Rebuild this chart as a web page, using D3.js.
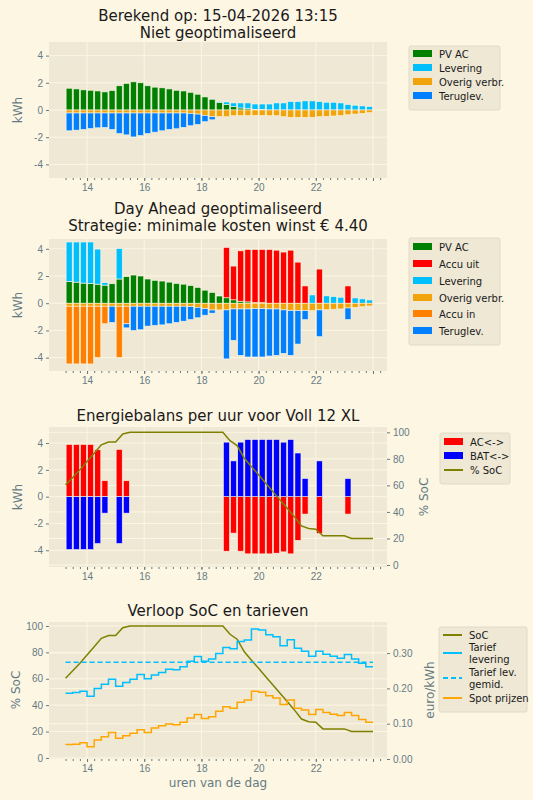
<!DOCTYPE html>
<html>
<head>
<meta charset="utf-8">
<script src="https://cdn.jsdelivr.net/npm/d3@7"></script>
<style>
  body { margin: 0; background: #fdf6e3; }
  svg { font-family: "DejaVu Sans", sans-serif; }
  .tick text { fill: #657b83; font-size: 10px; }
  .tick line { stroke: #657b83; }
  .domain { display: none; }
</style>
</head>
<body>
<svg id="chart" width="533" height="800"></svg>
<script>
// kwartieren vanaf 13:15
var hours = d3.range(43).map(function(i) { return 13.25 + 0.25 * i; });
var socHours = d3.range(44).map(function(i) { return 13.25 + 0.25 * i; });

var pvAC = [1.6,1.55,1.48,1.45,1.4,1.33,1.43,1.78,1.95,2.07,2.0,1.78,1.68,1.63,1.55,1.45,1.4,1.3,1.16,0.96,
  0.79,0.54,0.4,0.25,0.15,0.1,0.05,0.05,0,0,0,0,0,0,0,0,0,0,0,0,0,0,0];
var overig = [0.22,0.22,0.22,0.22,0.22,0.22,0.22,0.22,0.22,0.22,0.22,0.22,0.22,0.22,0.22,0.22,0.22,0.25,0.3,0.4,0.5,
  0.49,0.49,0.42,0.42,0.42,0.4,0.4,0.42,0.42,0.49,0.54,0.54,0.54,0.54,0.49,0.47,0.44,0.42,0.35,0.3,0.25,0.2];

// niet geoptimaliseerd
var levering1 = [0,0,0,0,0,0,0,0,0,0,0,0,0,0,0,0,0,0,0,0,0,
  0.08,0.19,0.27,0.37,0.42,0.39,0.39,0.44,0.52,0.52,0.62,0.62,0.67,0.67,0.62,0.57,0.57,0.52,0.4,0.35,0.3,0.25];
var terug1 = [1.31,1.26,1.21,1.14,1.09,1.06,1.21,1.51,1.61,1.76,1.66,1.51,1.41,1.31,1.21,1.16,1.06,0.91,0.76,0.46,0.22,
  0,0,0,0,0,0,0,0,0,0,0,0,0,0,0,0,0,0,0,0,0,0];

// day ahead geoptimaliseerd
var accuUit = [0,0,0,0,0,0,0,0,0,0,0,0,0,0,0,0,0,0,0,0,0,0,
  3.7,2.48,3.7,3.85,3.9,3.9,3.95,3.9,3.76,3.9,3.02,1.27,0,2.51,0,0,0,1.27,0,0,0];
var levering2 = [2.9,2.95,3.02,3.05,2.58,0.18,0,2.24,0,0,0,0,0,0,0,0,0,0,0,0,0,0.05,
  0,0,0,0,0,0,0,0,0,0,0,0,0.61,0,0.54,0.49,0.44,0,0.39,0.32,0.24];
var accuIn = [4.24,4.24,4.24,4.24,3.76,1.29,0,3.76,1.29,0,0,0,0,0,0,0,0,0,0,0,0,0,
  0,0,0,0,0,0,0,0,0,0,0,0,0,0,0,0,0,0,0,0,0];
var terug2 = [0,0,0,0,0,0,1.19,0,0.3,1.78,1.73,1.46,1.41,1.37,1.29,1.19,1.1,0.95,0.77,0.48,0.23,0,
  3.6,2.31,3.41,3.53,3.55,3.55,3.46,3.41,3.19,3.29,2.46,0.66,0,1.97,0,0,0,0.85,0,0,0];

// energiebalans batterij
var acBal = [3.9,3.9,3.9,3.9,3.5,1.19,0,3.53,1.19,0,0,0,0,0,0,0,0,0,0,0,0,0,
  -4.07,-2.72,-4.07,-4.27,-4.27,-4.27,-4.27,-4.22,-4.12,-4.27,-3.26,-1.3,0,-2.74,0,0,0,-1.3,0,0,0];
var batBal = [-3.95,-3.95,-3.95,-3.95,-3.5,-1.23,0,-3.5,-1.23,0,0,0,0,0,0,0,0,0,0,0,0,0,
  4.07,2.67,4.07,4.27,4.27,4.27,4.27,4.27,4.07,4.27,3.26,1.36,0,2.67,0,0,0,1.36,0,0,0];
var soc = [60.4,66,71.7,78,84.3,90.6,92.7,92.7,98.7,100,100,100,100,100,100,100,100,100,100,100,100,100,100,
  93.7,90,80.4,74,68,61.6,55.3,49,42.7,36.4,29.5,27.5,27,22,22,22,22,20,20,20,20];

// tarieven
var tariefLev = [0.186,0.188,0.192,0.178,0.200,0.212,0.226,0.206,0.217,0.226,0.239,0.227,0.238,0.245,0.254,0.253,
  0.261,0.277,0.290,0.277,0.283,0.299,0.316,0.312,0.333,0.337,0.368,0.365,0.352,0.346,0.321,0.338,0.314,0.305,
  0.291,0.305,0.297,0.291,0.285,0.296,0.283,0.271,0.261];
var tariefGem = 0.274;
var spot = [0.041,0.042,0.046,0.035,0.054,0.063,0.075,0.059,0.066,0.073,0.083,0.075,0.088,0.094,0.099,0.097,
  0.104,0.116,0.126,0.115,0.120,0.135,0.148,0.144,0.161,0.167,0.192,0.189,0.179,0.173,0.154,0.167,0.144,0.139,
  0.126,0.140,0.132,0.127,0.123,0.132,0.123,0.112,0.104];

var xTicks = [14,16,18,20,22,24];
var kwhTicks = [-4,-2,0,2,4];

var col = {pv:"#008000", lev:"#00bfff", ov:"#f0a30a", terug:"#0080ff", uit:"#ff0000", inn:"#ff8000",
  ac:"#ff0000", bat:"#0000ff", soc:"#808000", spot:"#ffa500"};

var svg = d3.select("#chart");
var L = 49, R = 387;
var x = d3.scaleLinear().domain([12.67, 24.49]).range([L, R]);
var bw = (x(0.25) - x(0)) * 0.85;

function panel(top, bottom, yDom, yTicks, fmt) {
  var g = svg.append("g");
  g.append("rect").attr("x", L).attr("y", top).attr("width", R - L).attr("height", bottom - top).attr("fill", "#eee8d5");
  var y = d3.scaleLinear().domain(yDom).range([bottom, top]);
  g.append("g").selectAll("line").data(xTicks).join("line")
    .attr("x1", d => x(d)).attr("x2", d => x(d)).attr("y1", top).attr("y2", bottom)
    .attr("stroke", "#fdf6e3").attr("stroke-width", 1);
  g.append("g").selectAll("line").data(yTicks).join("line")
    .attr("x1", L).attr("x2", R).attr("y1", d => y(d)).attr("y2", d => y(d))
    .attr("stroke", "#fdf6e3").attr("stroke-width", 1);
  g.append("g").attr("transform", "translate(0," + bottom + ")")
    .call(d3.axisBottom(x).tickValues(xTicks).tickSize(3).tickFormat(d => d === 24 ? "" : d));
  g.append("g").attr("transform", "translate(0," + bottom + ")")
    .call(d3.axisBottom(x).tickValues(d3.range(13.25, 24.3, 0.25)).tickSize(2).tickFormat(""));
  g.append("g").attr("transform", "translate(" + L + ",0)")
    .call(d3.axisLeft(y).tickValues(yTicks).tickSize(3).tickFormat(fmt || (d => d)));
  return {g: g, y: y, top: top, bottom: bottom};
}

function stack(p, series) {
  // series: [{vals, color, sign}]; stacks positive up, negative down
  var pos = hours.map(() => 0), neg = hours.map(() => 0);
  series.forEach(function(s) {
    var bars = hours.map(function(h, i) {
      var v = s.vals[i];
      var b;
      if (s.sign > 0) { b = {h: h, y0: pos[i], y1: pos[i] + v}; pos[i] += v; }
      else { b = {h: h, y0: neg[i], y1: neg[i] - v}; neg[i] -= v; }
      return b;
    }).filter(b => b.y0 !== b.y1);
    p.g.append("g").selectAll("rect").data(bars).join("rect")
      .attr("x", d => x(d.h + 0.125) - bw / 2).attr("width", bw)
      .attr("y", d => p.y(Math.max(d.y0, d.y1)))
      .attr("height", d => Math.abs(p.y(d.y0) - p.y(d.y1)))
      .attr("fill", s.color).attr("stroke", "#fdf6e3").attr("stroke-width", 0.6);
  });
}

function title(lines, yy) {
  lines.forEach(function(t, i) {
    svg.append("text").attr("x", 218).attr("y", yy + i * 17).attr("text-anchor", "middle")
      .attr("font-size", 15).attr("fill", "#1a1a1a").text(t);
  });
}

function yLabel(t, xx, yy) {
  svg.append("text").attr("transform", "translate(" + xx + "," + yy + ") rotate(-90)")
    .attr("text-anchor", "middle").attr("font-size", 12).attr("fill", "#657b83").text(t);
}

function legend(x0, y0, w, items) {
  var h = d3.max(items, d => d.y) + 14;
  var g = svg.append("g");
  g.append("rect").attr("x", x0).attr("y", y0).attr("width", w).attr("height", h)
    .attr("rx", 2).attr("fill", "#eee8d5").attr("stroke", "#e0dac7");
  items.forEach(function(it) {
    var cy = y0 + it.y;
    if (it.type === "patch") {
      g.append("rect").attr("x", x0 + 4).attr("y", cy - 4).attr("width", 19).attr("height", 7).attr("fill", it.color);
    } else {
      g.append("line").attr("x1", x0 + 4).attr("x2", x0 + 23).attr("y1", cy).attr("y2", cy)
        .attr("stroke", it.color).attr("stroke-width", 2).attr("stroke-dasharray", it.dash || null);
    }
    it.text.forEach(function(t, k) {
      g.append("text").attr("x", x0 + 30).attr("y", cy + 4 + (k - (it.text.length - 1) / 2) * 11.5)
        .attr("font-size", 10).attr("fill", "#1a1a1a").text(t);
    });
  });
}

// 1: niet geoptimaliseerd
title(["Berekend op: 15-04-2026 13:15", "Niet geoptimaliseerd"], 21);
var p1 = panel(42, 178, [-5, 5], kwhTicks);
stack(p1, [{vals: pvAC, color: col.pv, sign: 1}, {vals: levering1, color: col.lev, sign: 1},
  {vals: overig, color: col.ov, sign: -1}, {vals: terug1, color: col.terug, sign: -1}]);
yLabel("kWh", 22, 110);
legend(409, 46, 91, [
  {type: "patch", color: col.pv, text: ["PV AC"], y: 8},
  {type: "patch", color: col.lev, text: ["Levering"], y: 22},
  {type: "patch", color: col.ov, text: ["Overig verbr."], y: 36},
  {type: "patch", color: col.terug, text: ["Teruglev."], y: 50}]);

// 2: day ahead
title(["Day Ahead geoptimaliseerd", "Strategie: minimale kosten winst € 4.40"], 214);
var p2 = panel(239, 371, [-4.98, 4.72], kwhTicks);
stack(p2, [{vals: pvAC, color: col.pv, sign: 1}, {vals: accuUit, color: col.uit, sign: 1},
  {vals: levering2, color: col.lev, sign: 1},
  {vals: overig, color: col.ov, sign: -1}, {vals: accuIn, color: col.inn, sign: -1},
  {vals: terug2, color: col.terug, sign: -1}]);
yLabel("kWh", 22, 305);
legend(409, 238, 91, [
  {type: "patch", color: col.pv, text: ["PV AC"], y: 9},
  {type: "patch", color: col.uit, text: ["Accu uit"], y: 26},
  {type: "patch", color: col.lev, text: ["Levering"], y: 43},
  {type: "patch", color: col.ov, text: ["Overig verbr."], y: 60},
  {type: "patch", color: col.inn, text: ["Accu in"], y: 76},
  {type: "patch", color: col.terug, text: ["Teruglev."], y: 93}]);

// 3: energiebalans
title(["Energiebalans per uur voor Voll 12 XL"], 421);
var p3 = panel(427, 567, [-5.25, 5.2], kwhTicks);
var y3r = d3.scaleLinear().domain([-1.5, 104]).range([567, 427]);
p3.g.append("g").selectAll("line").data([0,20,40,60,80,100]).join("line")
  .attr("x1", L).attr("x2", R).attr("y1", d => y3r(d)).attr("y2", d => y3r(d))
  .attr("stroke", "#fdf6e3").attr("stroke-width", 1);
[{vals: acBal, color: col.ac}, {vals: batBal, color: col.bat}].forEach(function(s) {
  p3.g.append("g").selectAll("rect").data(hours.map((h, i) => ({h: h, v: s.vals[i]})).filter(d => d.v !== 0))
    .join("rect")
    .attr("x", d => x(d.h + 0.125) - bw / 2).attr("width", bw)
    .attr("y", d => p3.y(Math.max(0, d.v))).attr("height", d => Math.abs(p3.y(d.v) - p3.y(0)))
    .attr("fill", s.color).attr("stroke", "#fdf6e3").attr("stroke-width", 0.6);
});
p3.g.append("path").datum(socHours.map((h, i) => [h, soc[i]]))
  .attr("d", d3.line().x(d => x(d[0])).y(d => y3r(d[1])))
  .attr("fill", "none").attr("stroke", col.soc).attr("stroke-width", 1.5);
svg.append("g").attr("transform", "translate(" + R + ",0)")
  .call(d3.axisRight(y3r).tickValues([0,20,40,60,80,100]).tickSize(3));
yLabel("kWh", 22, 497);
yLabel("% SoC", 428, 497);
legend(440, 433, 70, [
  {type: "patch", color: col.ac, text: ["AC<->"], y: 9},
  {type: "patch", color: col.bat, text: ["BAT<->"], y: 23},
  {type: "line", color: col.soc, text: ["% SoC"], y: 37}]);

// 4: SoC en tarieven
title(["Verloop SoC en tarieven"], 616);
var p4 = panel(622, 759, [-0.8, 103], [0,20,40,60,80,100]);
var y4r = d3.scaleLinear().domain([0, 0.388]).range([759, 622]);
p4.g.append("g").selectAll("line").data([0.1,0.2,0.3]).join("line")
  .attr("x1", L).attr("x2", R).attr("y1", d => y4r(d)).attr("y2", d => y4r(d))
  .attr("stroke", "#fdf6e3").attr("stroke-width", 1);
p4.g.append("path").datum(socHours.map((h, i) => [h, soc[i]]))
  .attr("d", d3.line().x(d => x(d[0])).y(d => p4.y(d[1])))
  .attr("fill", "none").attr("stroke", col.soc).attr("stroke-width", 1.5);
function stepLine(vals, color) {
  var pts = hours.map((h, i) => [h, vals[i]]).concat([[24, vals[vals.length - 1]]]);
  p4.g.append("path").datum(pts)
    .attr("d", d3.line().curve(d3.curveStepAfter).x(d => x(d[0])).y(d => y4r(d[1])))
    .attr("fill", "none").attr("stroke", color).attr("stroke-width", 1.5);
}
stepLine(tariefLev, col.lev);
p4.g.append("line").attr("x1", x(13.25)).attr("x2", x(24)).attr("y1", y4r(tariefGem)).attr("y2", y4r(tariefGem))
  .attr("stroke", col.lev).attr("stroke-width", 1.5).attr("stroke-dasharray", "5,3");
stepLine(spot, col.spot);
svg.append("g").attr("transform", "translate(" + R + ",0)")
  .call(d3.axisRight(y4r).tickValues([0,0.1,0.2,0.3]).tickSize(3).tickFormat(d3.format(".2f")));
yLabel("% SoC", 20, 690);
yLabel("euro/kWh", 434, 690);
svg.append("text").attr("x", 218).attr("y", 787).attr("text-anchor", "middle")
  .attr("font-size", 12).attr("fill", "#657b83").text("uren van de dag");
legend(439, 627, 88, [
  {type: "line", color: col.soc, text: ["SoC"], y: 8},
  {type: "line", color: col.lev, text: ["Tarief", "levering"], y: 26},
  {type: "line", color: col.lev, dash: "5,3", text: ["Tarief lev.", "gemid."], y: 51},
  {type: "line", color: col.spot, text: ["Spot prijzen"], y: 71}]);
</script>
</body>
</html>
